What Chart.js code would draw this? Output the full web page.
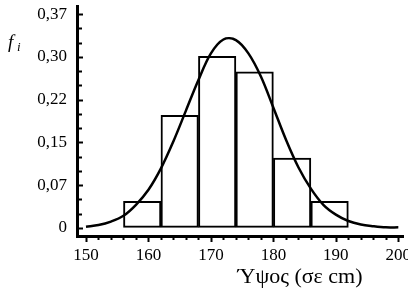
<!DOCTYPE html>
<html>
<head>
<meta charset="utf-8">
<script src="https://cdn.jsdelivr.net/npm/chart.js@4.4.0/dist/chart.umd.min.js"></script>
<style>
  body { margin: 0; background: #fff; }
</style>
</head>
<body>
<canvas id="myChart" width="408" height="293"></canvas>
<script>
// histogram classes (centres, width 6 cm) and relative frequencies
var binCenters = [159, 165, 171, 177, 183, 189]
var binFreq = [0.046, 0.195, 0.297, 0.27, 0.121, 0.046]

// fitted curve, every 2 cm
var curveX = [150, 152, 154, 156, 158, 160, 162, 164, 166, 168, 170, 172, 174,
  176, 178, 180, 182, 184, 186, 188, 190, 192, 194, 196, 198, 200]
var curveY = [0.002, 0.005, 0.011, 0.021, 0.04, 0.066, 0.103, 0.15, 0.203, 0.256, 0.302, 0.326, 0.325,
  0.302, 0.262, 0.208, 0.153, 0.105, 0.068, 0.04, 0.023, 0.012, 0.006, 0.003, 0.001, 0.001]

var yTicks = [0, 0.074, 0.148, 0.222, 0.296, 0.37]
var yTickLabels = ['0', '0,07', '0,15', '0,22', '0,30', '0,37']
var xTicks = [150, 160, 170, 180, 190, 200]
var xTitle = 'Ύψος (σε cm)'

var serif = "'Liberation Serif', 'Times New Roman', serif"

// tick marks: y inward, x outward, plus minor ones, and the axis titles
var tickMarks = {
  id: 'tickMarks',
  afterDraw(chart) {
    const ctx = chart.ctx
    const xs = chart.scales.x, ys = chart.scales.y
    const left = chart.chartArea.left, bottom = chart.chartArea.bottom
    ctx.save()
    ctx.strokeStyle = '#000'
    ctx.lineWidth = 2
    // y axis
    const ystep = yTicks[1] / 3
    for (let i = 0; i <= 15; i++) {
      const py = Math.round(ys.getPixelForValue(i * ystep)) + 0.5
      const len = i % 3 === 0 ? 6 : 5
      ctx.beginPath()
      ctx.moveTo(left, py)
      ctx.lineTo(left + len, py)
      ctx.stroke()
    }
    // x axis
    for (let v = 150; v <= 200; v += 2) {
      const px = Math.round(xs.getPixelForValue(v)) + 0.5
      const major = v % 10 === 0
      ctx.beginPath()
      ctx.moveTo(px, bottom)
      ctx.lineTo(px, bottom + (major ? 6 : 4))
      ctx.stroke()
    }
    ctx.fillStyle = '#000'
    ctx.textBaseline = 'alphabetic'
    // x axis title
    ctx.textAlign = 'center'
    ctx.font = '22px ' + serif
    ctx.fillText(xTitle, 300, 283)
    // y axis title f_i
    ctx.textAlign = 'left'
    ctx.font = 'italic 19px ' + serif
    ctx.fillText('f', 8, 48)
    ctx.font = 'italic 13px ' + serif
    ctx.fillText('i', 17, 51)
    ctx.restore()
  },
}

var ctx = document.getElementById('myChart').getContext('2d')
var myChart = new Chart(ctx, {
  type: 'bar',
  data: {
    datasets: [
      {
        type: 'line',
        data: curveX.map((x, i) => ({ x: x, y: curveY[i] })),
        borderColor: '#000',
        borderWidth: 2.5,
        pointRadius: 0,
        tension: 0.35,
        fill: false,
        order: 0,
      },
      {
        type: 'bar',
        data: binCenters.map((x, i) => ({ x: x, y: binFreq[i] })),
        backgroundColor: '#fff',
        borderColor: '#000',
        borderWidth: 2,
        borderSkipped: false,
        barPercentage: 1,
        categoryPercentage: 1,
        order: 1,
      },
    ],
  },
  options: {
    responsive: false,
    animation: false,
    layout: { padding: { top: 6, right: 5, left: 0, bottom: 0 } },
    plugins: { legend: { display: false }, tooltip: { enabled: false } },
    scales: {
      x: {
        type: 'linear',
        offset: false,
        min: 148.56,
        max: 200.75,
        afterBuildTicks: (scale) => { scale.ticks = xTicks.map((v) => ({ value: v })) },
        afterFit: (scale) => {
          scale.height = 57
          scale.paddingLeft = 0
          scale.paddingRight = 0
        },
        grid: { display: true, drawOnChartArea: false, drawTicks: false, offset: false },
        border: { display: true, color: '#000', width: 3 },
        ticks: { color: '#000', font: { family: serif, size: 17 }, padding: 9, maxRotation: 0 },
      },
      y: {
        min: -0.014,
        max: 0.384,
        afterBuildTicks: (scale) => { scale.ticks = yTicks.map((v) => ({ value: v })) },
        afterFit: (scale) => {
          scale.width = 77
          scale.paddingTop = 0
          scale.paddingBottom = 0
        },
        grid: { display: true, drawOnChartArea: false, drawTicks: false },
        border: { display: true, color: '#000', width: 3 },
        ticks: {
          color: '#000',
          font: { family: serif, size: 17 },
          padding: 10,
          callback: (v, i) => yTickLabels[i],
        },
      },
    },
  },
  plugins: [tickMarks],
})
</script>
</body>
</html>
